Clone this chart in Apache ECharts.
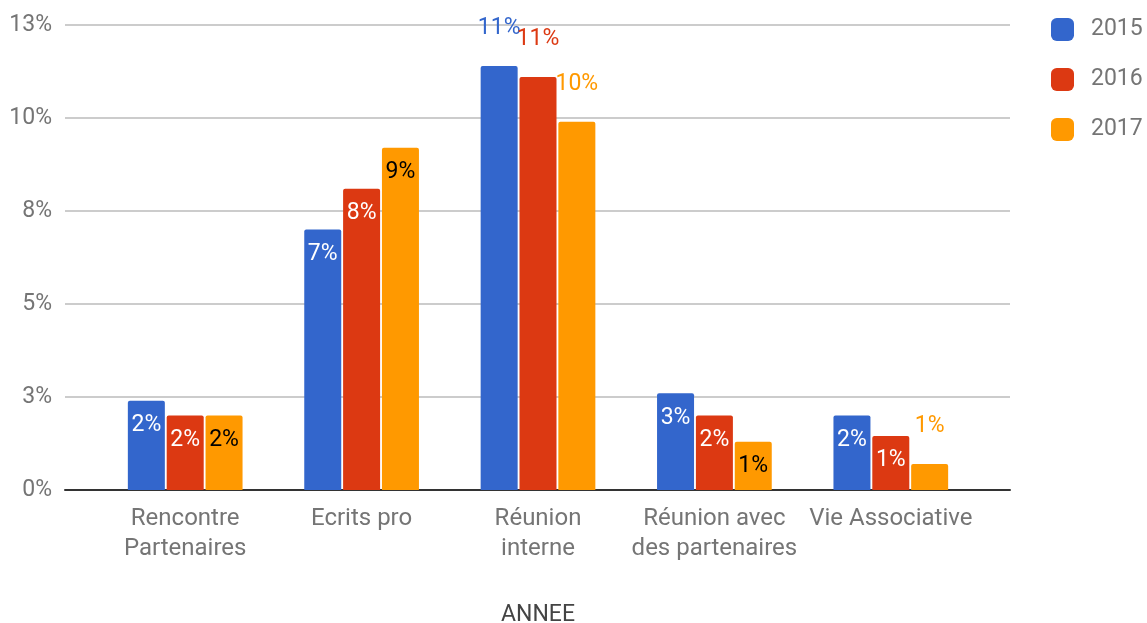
<!DOCTYPE html>
<html>
<head>
<meta charset="utf-8">
<script src="https://cdn.jsdelivr.net/npm/echarts@6/dist/echarts.min.js"></script>
<style>
  html, body { margin: 0; padding: 0; background: #fff; }
  #main { width: 1147px; height: 623px; }
</style>
</head>
<body>
<div id="main"></div>
<script>
// données
var categories = ['Rencontre\nPartenaires', 'Ecrits pro', 'Réunion\ninterne', 'Réunion avec\ndes partenaires', 'Vie Associative'];
var years = ['2015', '2016', '2017'];
var v2015 = [2.4, 7.0, 11.4, 2.6, 2.0];
var v2016 = [2.0, 8.1, 11.1, 2.0, 1.45];
var v2017 = [2.0, 9.2, 9.9, 1.3, 0.7];
var yTicks = [0, 2.5, 5, 7.5, 10, 12.5];

var colors = ['#3366CC', '#DC3912', '#FF9900'];
// étiquettes au-dessus de la barre (trop haut ou trop court)
var outside = [[2], [2], [2, 4]];
var insideColor = ['#fff', '#fff', '#000'];

var chart = echarts.init(document.getElementById('main'));

function buildSeries(values, idx) {
  return {
    name: years[idx],
    type: 'bar',
    xAxisIndex: 0,
    yAxisIndex: 0,
    barWidth: 37,
    barGap: '5%',
    itemStyle: { color: colors[idx], borderRadius: [2, 2, 0, 0] },
    label: {
      show: true,
      position: 'insideTop',
      distance: 13,
      fontFamily: 'Roboto',
      fontSize: 23,
      color: insideColor[idx],
      formatter: function (p) { return Math.round(p.value) + '%'; }
    },
    data: values.map(function (v, i) {
      if (outside[idx].indexOf(i) >= 0) {
        return { value: v, label: { position: 'top', distance: 26, color: colors[idx] } };
      }
      return v;
    })
  };
}

var option = {
  animation: false,
  textStyle: { fontFamily: 'Roboto' },
  color: colors,
  legend: {
    orient: 'vertical',
    left: 1046,
    top: 13,
    itemWidth: 23,
    itemHeight: 23,
    itemGap: 27,
    icon: 'roundRect',
    textStyle: { fontSize: 23, color: '#757575', padding: [0, 0, 0, 12] },
    data: years
  },
  grid: [
    { left: 97, right: 168, top: 25, bottom: 133, outerBoundsMode: 'none' },
    { left: 65, right: 137, top: 25, bottom: 133, outerBoundsMode: 'none' }
  ],
  xAxis: [
    {
      type: 'category',
      gridIndex: 0,
      data: categories,
      axisLine: { show: false },
      axisTick: { show: false },
      axisLabel: { interval: 0, fontSize: 24, color: '#757575', lineHeight: 30, margin: 14 },
      name: 'ANNEE',
      nameLocation: 'middle',
      nameGap: 114,
      nameTextStyle: { fontSize: 23, color: '#444' }
    },
    {
      type: 'value',
      gridIndex: 1,
      min: 0,
      max: 1,
      axisLabel: { show: false },
      axisTick: { show: false },
      splitLine: { show: false },
      axisLine: { show: true, lineStyle: { color: '#333', width: 2 } }
    }
  ],
  yAxis: [
    {
      type: 'value',
      gridIndex: 0,
      min: 0,
      max: 12.5,
      interval: 2.5,
      show: false,
      splitLine: { show: false }
    },
    {
      type: 'value',
      gridIndex: 1,
      min: 0,
      max: 12.5,
      interval: 2.5,
      axisLine: { show: false },
      axisTick: { show: false },
      axisLabel: {
        fontSize: 23,
        color: '#757575',
        margin: 13,
        formatter: function (v) { return Math.round(v) + '%'; }
      },
      splitLine: { lineStyle: { color: '#cccccc', width: 2 } }
    }
  ],
  series: [
    buildSeries(v2015, 0),
    buildSeries(v2016, 1),
    buildSeries(v2017, 2)
  ]
};

chart.setOption(option);
</script>
</body>
</html>
